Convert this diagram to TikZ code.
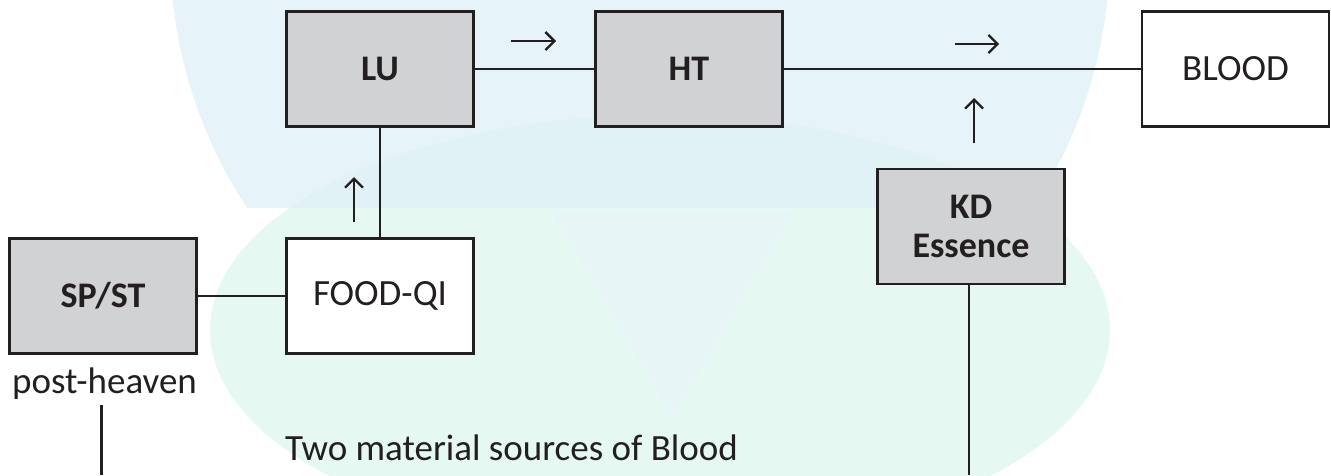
\documentclass[tikz,border=0pt]{standalone}
\usepackage{fontspec}
\setmainfont{Carlito}
\usetikzlibrary{arrows.meta}
\definecolor{boxgray}{HTML}{D1D2D4}
\definecolor{ink}{HTML}{231F20}
\definecolor{wmblue}{HTML}{E0F1F7}
\definecolor{wmmint}{HTML}{DFF6EE}
\definecolor{wmtri}{HTML}{E8F5F8}
\tikzset{
  organ/.style={draw=ink, line width=2.7pt, fill=boxgray, minimum width=187pt, minimum height=115pt,
    inner sep=0pt, font=\fontsize{36}{39}\selectfont\bfseries, text=ink, align=center},
  plainbox/.style={organ, fill=white, font=\fontsize{37}{39}\selectfont},
  link/.style={draw=ink, line width=2.5pt},
  flow/.style={draw=ink, line width=2.3pt, -{Straight Barb[length=9pt, width=18pt, line width=2.3pt]}},
  caption/.style={font=\fontsize{37}{39}\selectfont, text=ink, inner sep=0pt}
}
\begin{document}
\begin{tikzpicture}[x=1pt, y=-1pt]
\useasboundingbox (0,0) rectangle (1331,475);
% faint watermark
\begin{scope}[opacity=0.8]
  \clip (0,0) rectangle (1331,475);
  \fill[wmmint] (660,330) ellipse [x radius=450, y radius=215];
  \begin{scope}
    \clip (0,0) rectangle (1331,207);
    \fill[wmblue] (640,-50) circle [radius=470];
  \end{scope}
  \fill[wmtri] (552,212) -- (793,212) -- (673,417) -- cycle;
\end{scope}
% boxes
\node[organ] (lu) at (380,69) {LU};
\node[organ] (ht) at (689,69) {HT};
\node[plainbox] (blood) at (1235.5,69) {BLOOD};
\node[organ] (kd) at (971,226.5) {KD\\Essence};
\node[organ] (spst) at (103,296) {SP/ST};
\node[plainbox] (food) at (380,296) {FOOD-QI};
\node[caption, anchor=base] (ph) at (104.5,393) {post-heaven};
\node[caption, anchor=base west] (two) at (285,460) {Two material sources of Blood};
% connectors
\draw[link] (lu.east) -- (ht.west);
\draw[link] (ht.east) -- (blood.west);
\draw[link] (food.north) -- (lu.south);
\draw[link] (spst.east) -- (food.west);
\coordinate (kdend) at (969,475);
\draw[link] (kd.south -| kdend) -- (kdend);
\coordinate (phtop) at (101.5,405);
\coordinate (phend) at (101.5,475);
\draw[link] (phtop) -- (phend);
% direction arrows
\coordinate (a1s) at (511,41); \coordinate (a1e) at (556,41);
\coordinate (a2s) at (955,44); \coordinate (a2e) at (999,44);
\coordinate (a3s) at (974,143); \coordinate (a3e) at (974,98);
\coordinate (a4s) at (354,222); \coordinate (a4e) at (354,177);
\draw[flow] (a1s) -- (a1e);
\draw[flow] (a2s) -- (a2e);
\draw[flow] (a3s) -- (a3e);
\draw[flow] (a4s) -- (a4e);
\end{tikzpicture}
\end{document}
